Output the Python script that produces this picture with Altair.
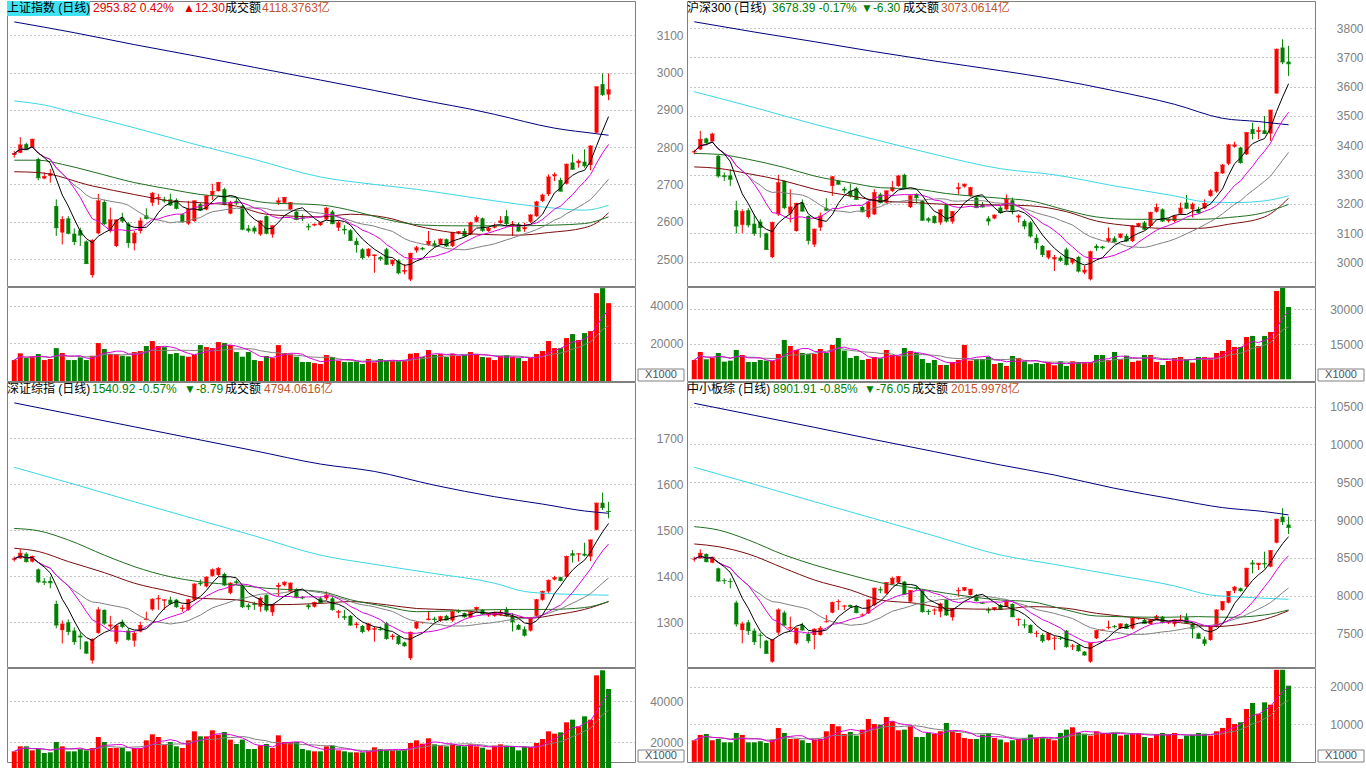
import altair as alt
import pandas as pd

FONT = "Liberation Sans, Noto Sans CJK SC, sans-serif"
UP, DOWN = "#ff0000", "#008000"
PW, PH, VH = 628, 285, 94
XDOM = [-0.377, 102.57]

# ---------------- 上证指数 ----------------
TL_O = [2779,2785,2808,2798,2768,2716,2723,2642,2571,2609,2568,2577,2547,2457,2569,2653,2575,2535,2611,2595,
        2542,2575,2617,2651,2662,2659,2660,2658,2620,2595,2602,2647,2633,2672,2682,2687,2622,2656,2642,2582,
        2584,2566,2615,2566,2651,2651,2633,2627,2611,2588,2590,2591,2606,2627,2584,2581,2577,2548,2526,2508,
        2508,2505,2526,2486,2496,2466,2445,2523,2530,2538,2542,2539,2553,2535,2569,2575,2566,2600,2609,2575,
        2584,2597,2615,2590,2593,2580,2600,2615,2656,2674,2722,2712,2702,2759,2757,2761,2752,2839,2969,2941]
TL_H = [2790,2827,2812,2823,2772,2732,2741,2660,2615,2615,2582,2584,2550,2553,2675,2659,2638,2606,2624,2599,
        2575,2611,2636,2680,2675,2667,2675,2663,2622,2656,2657,2651,2672,2702,2707,2691,2656,2665,2645,2591,
        2589,2604,2617,2590,2665,2666,2653,2631,2620,2595,2595,2600,2639,2631,2602,2591,2580,2557,2529,2529,
        2512,2508,2530,2499,2499,2486,2517,2535,2532,2575,2550,2555,2555,2573,2575,2582,2600,2617,2611,2586,
        2595,2615,2631,2602,2597,2597,2620,2656,2675,2727,2732,2718,2756,2781,2767,2794,2805,2962,2998,2998]
TL_L = [2772,2784,2792,2798,2711,2714,2705,2562,2539,2566,2537,2535,2486,2450,2566,2591,2571,2532,2597,2530,
        2523,2568,2606,2642,2645,2651,2642,2633,2597,2591,2600,2629,2631,2658,2681,2644,2620,2645,2577,2571,
        2568,2562,2566,2557,2645,2648,2631,2604,2602,2577,2588,2589,2604,2593,2575,2566,2548,2517,2499,2504,
        2463,2495,2484,2481,2459,2459,2441,2517,2523,2535,2532,2538,2532,2532,2566,2559,2564,2598,2573,2573,
        2582,2595,2591,2562,2573,2573,2597,2613,2653,2669,2709,2681,2700,2739,2745,2745,2738,2837,2937,2926]
TL_C = [2783,2806,2793,2821,2718,2721,2729,2584,2606,2569,2547,2564,2488,2550,2656,2595,2605,2605,2602,2544,
        2569,2602,2609,2676,2665,2656,2645,2636,2600,2633,2656,2631,2669,2681,2705,2647,2651,2650,2580,2577,
        2575,2602,2569,2589,2656,2665,2651,2606,2609,2586,2593,2597,2636,2595,2597,2578,2550,2539,2504,2526,
        2511,2501,2486,2496,2463,2469,2515,2530,2527,2547,2535,2553,2535,2571,2573,2562,2597,2611,2577,2582,
        2588,2602,2595,2593,2575,2584,2618,2653,2671,2720,2726,2682,2754,2741,2762,2750,2803,2962,2941.52,2953.82]
TL_V = [11150,14700,12200,13100,14340,11150,11700,17500,14870,11150,11150,12570,11150,13450,20180,17000,14340,14340,13450,13100,
        15400,15930,18590,21240,18590,18000,14340,14870,13450,12920,13980,19100,18050,17500,20700,20180,19100,15400,12920,15400,
        11150,10620,13280,12200,19100,14870,14340,12920,10090,10090,9500,9030,13800,12740,10800,10090,10090,10440,9030,11700,
        9900,11700,10970,11000,10620,10970,14500,14870,12740,16460,13980,14340,12740,14500,13280,13800,15400,14340,12740,12500,
        11150,13280,13800,12920,12200,10620,12200,14340,15930,21240,17500,17500,22830,24960,21770,25490,26550,46730,49400,41420]
TL_MA30_I = [0,4,8,13,20,26,31,37,42,51,57,62,68,73,84,90,95,99]
TL_MA30_V = [2765,2765,2754,2734,2705,2687,2673,2665,2651,2645,2627,2606,2591,2589,2589,2591,2595,2613]
TL_MA60_I = [0,4,13,20,26,31,37,42,51,56,62,67,73,78,84,89,95,97,99]
TL_MA60_V = [2734,2732,2696,2673,2656,2651,2642,2620,2613,2620,2611,2589,2571,2566,2564,2571,2584,2597,2624]
TL_MA120_I = [0,5,10,20,30,40,51,60,67,75,84,89,95,99]
TL_MA120_V = [2924,2913,2893,2852,2808,2767,2720,2700,2687,2668,2647,2638,2631,2644]
TL_MA250_I = [0,10,20,30,40,51,60,70,76,80,90,97,99]
TL_MA250_V = [3136,3107,3075,3045,3014,2980,2952,2920,2902,2888,2851,2836,2832]

# ---------------- 沪深300 ----------------
TR_O = [3376,3386,3423,3413,3364,3297,3297,3178,3128,3178,3132,3139,3099,3018,3164,3278,3166,3107,3204,3158,
        3061,3119,3185,3261,3278,3251,3244,3253,3189,3155,3164,3232,3204,3244,3261,3299,3189,3232,3210,3150,
        3158,3136,3196,3139,3250,3259,3227,3221,3196,3150,3150,3187,3181,3212,3153,3141,3136,3084,3056,3016,
        3010,3016,3044,2999,3018,2965,2942,3056,3054,3071,3082,3084,3090,3073,3124,3136,3124,3173,3181,3141,
        3141,3166,3204,3181,3181,3185,3227,3242,3304,3337,3395,3392,3369,3455,3446,3451,3440,3577,3734,3686]
TR_H = [3385,3449,3426,3443,3367,3307,3318,3210,3181,3185,3164,3147,3101,3139,3299,3280,3250,3204,3215,3160,
        3115,3170,3219,3295,3280,3258,3269,3258,3192,3210,3250,3238,3246,3278,3299,3303,3232,3236,3213,3155,
        3161,3181,3199,3175,3272,3269,3258,3224,3206,3158,3164,3192,3232,3221,3164,3147,3141,3096,3059,3040,
        3025,3022,3050,3013,3022,2988,3040,3062,3056,3119,3089,3099,3096,3127,3135,3141,3173,3201,3184,3150,
        3161,3204,3230,3204,3190,3215,3250,3310,3336,3405,3412,3395,3445,3477,3463,3500,3521,3730,3762,3740]
TR_L = [3369,3384,3403,3413,3289,3278,3261,3099,3099,3119,3090,3084,3042,3014,3158,3181,3136,3105,3173,3061,
        3052,3107,3176,3227,3264,3236,3221,3213,3170,3150,3161,3201,3201,3240,3258,3250,3185,3201,3141,3136,
        3132,3128,3136,3132,3232,3255,3224,3185,3187,3126,3147,3166,3178,3164,3136,3113,3084,3044,3018,3010,
        2970,3002,2989,2993,2965,2959,2938,3039,3044,3067,3067,3082,3070,3070,3121,3110,3121,3170,3138,3136,
        3136,3164,3182,3153,3166,3182,3224,3238,3302,3332,3392,3337,3367,3420,3420,3438,3415,3577,3677,3637]
TR_C = [3378,3420,3409,3438,3295,3293,3284,3124,3173,3128,3099,3119,3044,3136,3272,3187,3189,3201,3175,3075,
        3113,3158,3178,3292,3267,3247,3227,3215,3173,3206,3238,3204,3244,3255,3295,3255,3227,3221,3144,3144,
        3136,3179,3141,3173,3255,3267,3255,3187,3189,3141,3161,3170,3215,3178,3158,3124,3090,3067,3027,3039,
        3016,3007,2993,3010,2970,2973,3036,3050,3050,3081,3071,3096,3073,3124,3132,3113,3170,3187,3141,3147,
        3158,3185,3185,3198,3170,3201,3244,3307,3332,3401,3401,3341,3443,3440,3450,3440,3520,3728,3684.69,3678.39]
TR_V = [8290,11720,8570,9150,11290,7570,8000,12570,10430,7430,7430,8290,8000,8000,10860,16860,14290,12570,11290,10860,
        10860,13000,11290,14720,17720,12290,9150,10000,8290,8720,9570,9000,12570,10430,10000,13430,12150,11290,8720,7000,
        8290,6140,6140,7430,8290,14720,8000,8720,8720,9570,6570,7000,5720,10000,9150,7720,6500,7000,6570,7430,
        6000,7720,5720,7720,7430,7430,7430,10430,10430,8290,11720,8570,10150,7430,8000,10430,10430,7430,6140,7860,
        9150,9570,8570,7150,9570,9500,9290,11290,12150,16860,13860,13860,18150,18580,14290,18580,20290,37870,39150,31000]
TR_MA30_I = [0,4,9,15,20,26,31,37,42,51,56,62,67,73,84,89,95,99]
TR_MA30_V = [3372,3369,3352,3324,3295,3272,3255,3250,3235,3219,3210,3178,3155,3147,3147,3153,3170,3198]
TR_MA60_I = [0,4,9,15,20,26,31,37,42,51,56,62,67,73,78,84,89,95,99]
TR_MA60_V = [3326,3321,3303,3278,3250,3227,3210,3204,3198,3196,3193,3173,3141,3124,3116,3116,3130,3155,3219]
TR_MA120_I = [0,10,20,30,40,51,60,70,80,85,90,95,99]
TR_MA120_V = [3583,3529,3472,3420,3369,3320,3299,3261,3227,3207,3204,3210,3227]
TR_MA250_I = [0,10,20,30,40,51,60,70,80,88,94,99]
TR_MA250_V = [3822,3787,3754,3720,3688,3655,3626,3586,3540,3492,3481,3470]

# ---------------- 深证综指 ----------------
BL_O = [1436,1439,1449,1432,1415,1389,1390,1340,1283,1300,1282,1271,1258,1217,1277,1327,1291,1258,1301,1282,
        1260,1280,1305,1328,1350,1347,1349,1349,1329,1327,1349,1386,1378,1401,1403,1405,1364,1389,1379,1337,
        1341,1334,1359,1322,1377,1381,1367,1372,1355,1337,1334,1352,1352,1352,1321,1313,1314,1294,1292,1283,
        1284,1286,1298,1268,1270,1256,1222,1287,1299,1305,1308,1304,1314,1304,1324,1320,1311,1327,1327,1315,
        1314,1316,1327,1314,1294,1285,1282,1314,1349,1367,1393,1398,1399,1450,1448,1449,1443,1501,1560,1542]
BL_H = [1443,1459,1452,1445,1417,1396,1399,1347,1304,1306,1289,1278,1259,1265,1333,1328,1314,1294,1306,1287,
        1280,1301,1323,1352,1359,1350,1356,1351,1338,1351,1385,1393,1400,1417,1420,1408,1387,1393,1381,1341,
        1345,1356,1361,1340,1386,1389,1387,1374,1357,1340,1345,1356,1367,1356,1327,1327,1316,1301,1294,1299,
        1291,1291,1301,1275,1272,1258,1280,1302,1301,1323,1312,1314,1316,1325,1328,1321,1323,1334,1329,1320,
        1323,1327,1333,1320,1296,1291,1311,1351,1369,1393,1401,1399,1445,1457,1450,1473,1480,1560,1582,1562]
BL_L = [1432,1438,1430,1430,1385,1381,1374,1287,1254,1272,1251,1241,1231,1210,1275,1294,1285,1253,1287,1260,
        1247,1278,1304,1325,1327,1327,1338,1331,1323,1325,1346,1379,1376,1399,1400,1379,1361,1381,1331,1327,
        1327,1323,1323,1314,1357,1378,1364,1353,1350,1328,1332,1341,1348,1325,1309,1305,1292,1287,1276,1280,
        1258,1282,1262,1262,1251,1247,1218,1285,1297,1304,1301,1301,1304,1301,1320,1310,1309,1325,1316,1312,
        1312,1314,1312,1280,1283,1269,1280,1312,1347,1364,1391,1389,1397,1430,1432,1443,1433,1500,1544,1526]
BL_C = [1438,1450,1432,1443,1388,1387,1386,1294,1296,1280,1258,1268,1233,1263,1327,1298,1294,1292,1291,1263,
        1276,1293,1307,1350,1352,1349,1341,1334,1331,1349,1383,1384,1398,1414,1417,1381,1385,1386,1334,1334,
        1339,1352,1327,1338,1380,1387,1385,1356,1353,1334,1343,1343,1359,1328,1323,1311,1294,1296,1280,1296,
        1286,1284,1265,1270,1254,1249,1278,1300,1300,1307,1306,1312,1305,1323,1323,1312,1321,1332,1318,1317,
        1321,1321,1314,1301,1285,1272,1309,1349,1367,1391,1397,1391,1443,1446,1449,1446,1479,1559,1549.71,1540.92]
BL_V = [15411,17869,17869,15902,16558,14591,14919,20000,17869,15411,15411,16558,15902,17050,22459,20000,17050,17050,17050,15411,
        17050,17050,20820,23770,22459,18689,20000,17869,17050,20820,25245,22786,22786,25737,23606,24917,21147,19017,21147,16558,
        16558,18361,19017,17050,23278,20000,20000,20000,16558,15902,15411,15411,17869,18197,15902,15411,14919,14919,14919,15411,
        17378,16558,16230,15902,15902,16558,19508,20820,19180,21803,18853,18197,17869,18853,18197,17869,18853,17869,17214,16230,
        18197,18853,18197,17542,15902,17542,17542,19508,21475,25245,24098,24753,29670,30981,27703,32620,30981,52780,55239,46060]
BL_MA30_I = [0,4,9,15,20,26,31,37,42,51,56,62,67,78,84,89,95,99]
BL_MA30_V = [1504,1499,1479,1446,1421,1399,1388,1381,1374,1367,1349,1334,1323,1327,1328,1328,1332,1345]
BL_MA60_I = [0,4,9,15,20,26,31,37,42,51,56,62,67,73,78,84,86,90,95,99]
BL_MA60_V = [1461,1454,1432,1408,1385,1367,1352,1349,1338,1341,1345,1338,1330,1327,1321,1311,1309,1316,1328,1345]
BL_MA120_I = [0,10,20,30,40,51,60,70,80,85,90,99]
BL_MA120_V = [1637,1600,1562,1525,1488,1446,1426,1406,1385,1367,1362,1359]
BL_MA250_I = [0,10,20,30,40,51,60,70,80,88,95,99]
BL_MA250_V = [1777,1751,1725,1699,1673,1644,1628,1598,1573,1557,1542,1537]

# ---------------- 中小板综 ----------------
BR_O = [8480,8493,8550,8436,8360,8202,8188,7906,7544,7646,7535,7478,7403,7125,7509,7774,7566,7368,7610,7491,
        7478,7478,7650,7774,7915,7858,7875,7862,7739,7765,7875,8083,8030,8153,8171,8184,7919,8105,8065,7796,
        7805,7787,7941,7712,8058,8065,8008,8008,7906,7815,7809,7875,7853,7888,7681,7615,7610,7496,7478,7412,
        7430,7438,7535,7328,7346,7257,7125,7434,7540,7575,7592,7566,7624,7566,7690,7677,7624,7685,7721,7637,
        7624,7672,7712,7624,7500,7420,7412,7588,7809,7906,8065,8096,8118,8436,8405,8427,8383,8700,9044,8940]
BR_H = [8515,8612,8559,8515,8369,8228,8228,7932,7654,7677,7566,7509,7412,7420,7831,7800,7721,7575,7641,7522,
        7566,7597,7743,7920,7950,7875,7880,7871,7765,7950,8105,8118,8180,8250,8260,8193,8074,8127,8074,7818,
        7831,7906,7950,7825,8109,8109,8090,8020,7915,7844,7844,7890,7941,7897,7699,7685,7619,7535,7500,7509,
        7465,7456,7544,7359,7354,7266,7376,7544,7553,7668,7610,7632,7632,7708,7703,7690,7685,7743,7730,7650,
        7685,7743,7765,7641,7509,7456,7597,7818,7928,8061,8127,8105,8369,8471,8431,8581,8603,9015,9155,9044]
BR_L = [8449,8488,8440,8427,8180,8153,8096,7588,7368,7478,7346,7301,7226,7110,7478,7597,7544,7350,7535,7368,
        7288,7470,7641,7765,7809,7809,7840,7765,7721,7756,7858,8030,8020,8140,8160,8010,7906,8074,7774,7743,
        7743,7712,7730,7668,7985,8058,8000,7920,7888,7765,7800,7810,7844,7712,7597,7566,7500,7447,7376,7403,
        7279,7412,7310,7279,7257,7204,7110,7425,7535,7553,7566,7557,7557,7553,7681,7624,7615,7677,7632,7624,
        7588,7654,7632,7434,7425,7332,7403,7580,7800,7897,8030,8052,8109,8294,8338,8360,8374,8692,8934,8815]
BR_C = [8484,8559,8449,8506,8193,8197,8184,7624,7624,7535,7390,7474,7235,7412,7809,7610,7575,7566,7544,7403,
        7553,7566,7654,7906,7920,7862,7853,7774,7743,7941,8096,8074,8171,8228,8250,8021,8065,8096,7787,7787,
        7809,7888,7743,7818,8065,8105,8083,7932,7897,7805,7840,7818,7919,7721,7685,7610,7509,7500,7403,7500,
        7434,7434,7323,7332,7270,7213,7368,7535,7544,7580,7588,7624,7566,7699,7694,7632,7677,7721,7641,7641,
        7677,7677,7641,7566,7434,7368,7588,7809,7919,8052,8109,8065,8360,8418,8427,8418,8594,9009,8977.96,8901.91]
BR_V = [5750,7170,7430,5750,6100,5220,5220,7700,7170,5220,5220,5490,5040,5930,9030,7700,6100,6100,5750,5040,
        5930,6100,8140,10090,9470,7430,7970,6990,8580,11420,10090,9910,11950,10800,8410,8580,9470,6640,6640,7700,
        7430,8140,10350,8140,7700,6370,6100,6100,7260,7700,6370,5930,5220,5750,6100,6280,7260,6370,6640,6100,
        5750,7700,8580,9200,7700,7500,7000,8140,7700,7430,7700,7000,7260,7700,7700,6640,6370,7430,7700,7430,
        7700,6100,7000,7260,7700,7500,7000,8140,9030,11700,10090,10530,14070,15660,12830,15840,15220,24500,24500,20270]
BR_MA30_I = [0,4,9,15,20,26,31,37,42,51,56,62,67,78,84,89,95,99]
BR_MA30_V = [8912,8868,8736,8537,8405,8272,8171,8096,8030,7941,7919,7809,7729,7712,7721,7712,7743,7809]
BR_MA60_I = [0,4,9,15,20,26,31,37,42,51,56,62,67,73,78,84,86,95,99]
BR_MA60_V = [8683,8647,8550,8360,8206,8074,7941,7897,7831,7818,7853,7831,7765,7712,7668,7610,7588,7685,7800]
BR_MA120_I = [0,10,20,30,40,51,60,70,80,86,90,99]
BR_MA120_V = [9698,9473,9243,9018,8789,8537,8413,8272,8127,8007,7985,7950]
BR_MA250_I = [0,10,20,30,40,51,60,70,80,88,95,99]
BR_MA250_V = [10545,10386,10227,10064,9905,9729,9596,9420,9274,9164,9111,9067]

C_MA5, C_MA10, C_MA20 = "#000000", "#dd00dd", "#808080"
C_MA30, C_MA60, C_MA120, C_MA250 = "#1f6e1f", "#7a0c0c", "#3ad8e6", "#000080"
AMT = "#c2552b"

XENC = alt.X("i:Q", scale=alt.Scale(domain=XDOM, nice=False, zero=False), axis=None)
COL = alt.Color("d:N", scale=alt.Scale(domain=["up", "down"], range=[UP, DOWN]), legend=None)


def yaxis(ticks):
    return alt.Axis(orient="right", values=ticks, grid=True, gridDash=[1, 3], gridColor="#8c8c8c",
                    domain=False, ticks=False, tickSize=0, labelAlign="right", labelPadding=48,
                    labelColor="#808080", labelFont=FONT, labelFontSize=12, title=None, format="d",
                    labelBaseline="middle")


def text_layer(txt, x, color, y=2):
    return alt.Chart(pd.DataFrame({"t": [txt]})).mark_text(
        align="left", baseline="top", font=FONT, fontSize=12, color=color
    ).encode(text="t:N", x=alt.value(x), y=alt.value(y))


def price_chart(O, H, L, C, longs, pdom, pticks, texts, highlight=False):
    n = len(C)
    df = pd.DataFrame({"i": list(range(n)), "o": O, "h": H, "l": L, "c": C})
    df["d"] = ["up" if c >= o else "down" for o, c in zip(O, C)]
    ysc = alt.Scale(domain=pdom, nice=False, zero=False)
    ax = yaxis(pticks)

    def Y(f):
        return alt.Y(f, scale=ysc, axis=ax)

    base = alt.Chart(df)
    layers = []
    if highlight:
        layers.append(alt.Chart(pd.DataFrame({"a": [0]})).mark_rect(color="#3fe3f3").encode(
            x=alt.value(0), x2=alt.value(83), y=alt.value(0), y2=alt.value(15)))
    layers += [
        base.mark_rule(strokeWidth=1).encode(x=XENC, y=Y("l:Q"), y2="h:Q", color=COL),
        base.mark_bar(size=4).encode(x=XENC, y=Y("o:Q"), y2="c:Q", color=COL),
        base.mark_tick(orient="horizontal", size=5, thickness=1).encode(x=XENC, y=Y("c:Q"), color=COL),
    ]
    for idx, vals, color in longs:
        d = pd.DataFrame({"i": idx, "m": vals})
        layers.append(alt.Chart(d).mark_line(color=color, strokeWidth=1, interpolate="monotone").encode(
            x=XENC, y=Y("m:Q")))
    for w, color in [(20, C_MA20), (10, C_MA10), (5, C_MA5)]:
        layers.append(base.transform_window(m="mean(c)", frame=[-(w - 1), 0], sort=[alt.SortField("i")])
                      .mark_line(color=color, strokeWidth=1).encode(x=XENC, y=Y("m:Q")))
    for txt, x, color in texts:
        layers.append(text_layer(txt, x, color))
    return alt.layer(*layers).properties(width=PW, height=PH)


def vol_chart(V, O, C, vdom, vticks):
    n = len(V)
    df = pd.DataFrame({"i": list(range(n)), "v": V})
    df["d"] = ["up" if c >= o else "down" for o, c in zip(O, C)]
    ysc = alt.Scale(domain=vdom, nice=False, zero=False)
    ax = yaxis(vticks)

    def Y(f):
        return alt.Y(f, scale=ysc, axis=ax)

    base = alt.Chart(df)
    layers = [base.mark_bar(size=5).encode(x=XENC, y=Y("v:Q"), y2=alt.value(VH), color=COL)]
    for w, color in [(10, C_MA20), (5, C_MA10)]:
        layers.append(base.transform_window(m="mean(v)", frame=[-(w - 1), 0], sort=[alt.SortField("i")])
                      .mark_line(color=color, strokeWidth=1).encode(x=XENC, y=Y("m:Q")))
    layers.append(alt.Chart(pd.DataFrame({"a": [0]})).mark_rect(fill="white", stroke="#808080", strokeWidth=1).encode(
        x=alt.value(631), x2=alt.value(677), y=alt.value(VH - 12), y2=alt.value(VH)))
    layers.append(alt.Chart(pd.DataFrame({"t": ["X1000"]})).mark_text(
        align="center", baseline="middle", font=FONT, fontSize=11, color="#505050"
    ).encode(text="t:N", x=alt.value(654), y=alt.value(VH - 6)))
    return alt.layer(*layers).properties(width=PW, height=VH)


def longs(p):
    g = globals()
    return [(g[p + "_MA250_I"], g[p + "_MA250_V"], C_MA250),
            (g[p + "_MA120_I"], g[p + "_MA120_V"], C_MA120),
            (g[p + "_MA60_I"], g[p + "_MA60_V"], C_MA60),
            (g[p + "_MA30_I"], g[p + "_MA30_V"], C_MA30)]


tl_p = price_chart(TL_O, TL_H, TL_L, TL_C, longs("TL"), [2427.6, 3192], [2500, 2600, 2700, 2800, 2900, 3000, 3100],
                   [("上证指数 (日线)", 0, "#000000"), ("2953.82 0.42%", 86, "#e00000"), ("▲12.30", 176, "#e00000"),
                    ("成交额", 218, "#000000"), ("4118.3763亿", 255, AMT)], highlight=True)
tl_v = vol_chart(TL_V, TL_O, TL_C, [0, 50000], [20000, 40000])

tr_p = price_chart(TR_O, TR_H, TR_L, TR_C, longs("TR"), [2919, 3893], [3000, 3100, 3200, 3300, 3400, 3500, 3600, 3700, 3800],
                   [("沪深300 (日线)", 0, "#000000"), ("3678.39 -0.17%", 85, "#008000"), ("▼-6.30", 174, "#008000"),
                    ("成交额", 216, "#000000"), ("3073.0614亿", 254, AMT)])
tr_v = vol_chart(TR_V, TR_O, TR_C, [-730, 39557], [15000, 30000])

bl_p = price_chart(BL_O, BL_H, BL_L, BL_C, longs("BL"), [1202.8, 1822.4], [1300, 1400, 1500, 1600, 1700],
                   [("深证综指 (日线)", 0, "#000000"), ("1540.92 -0.57%", 85, "#008000"), ("▼-8.79", 177, "#008000"),
                    ("成交额", 218, "#000000"), ("4794.0616亿", 257, AMT)])
bl_v = vol_chart(BL_V, BL_O, BL_C, [10172, 56364], [20000, 40000])

br_p = price_chart(BR_O, BR_H, BR_L, BR_C, longs("BR"), [7054, 10827], [7500, 8000, 8500, 9000, 9500, 10000, 10500],
                   [("中小板综 (日线)", 0, "#000000"), ("8901.91 -0.85%", 86, "#008000"), ("▼-76.05", 177, "#008000"),
                    ("成交额", 225, "#000000"), ("2015.9978亿", 264, AMT)])
br_v = vol_chart(BR_V, BR_O, BR_C, [-28, 24974], [10000, 20000])

chart = alt.concat(tl_p, tr_p, tl_v, tr_v, bl_p, br_p, bl_v, br_v, columns=2,
                   spacing={"row": 1, "column": 52}, bounds="flush").properties(
    padding={"left": 6, "top": 0, "right": 0, "bottom": 0}, background="white"
).configure_view(stroke="#808080", strokeWidth=1)

chart.save("out.html", embed_options={"renderer": "svg", "actions": False})
